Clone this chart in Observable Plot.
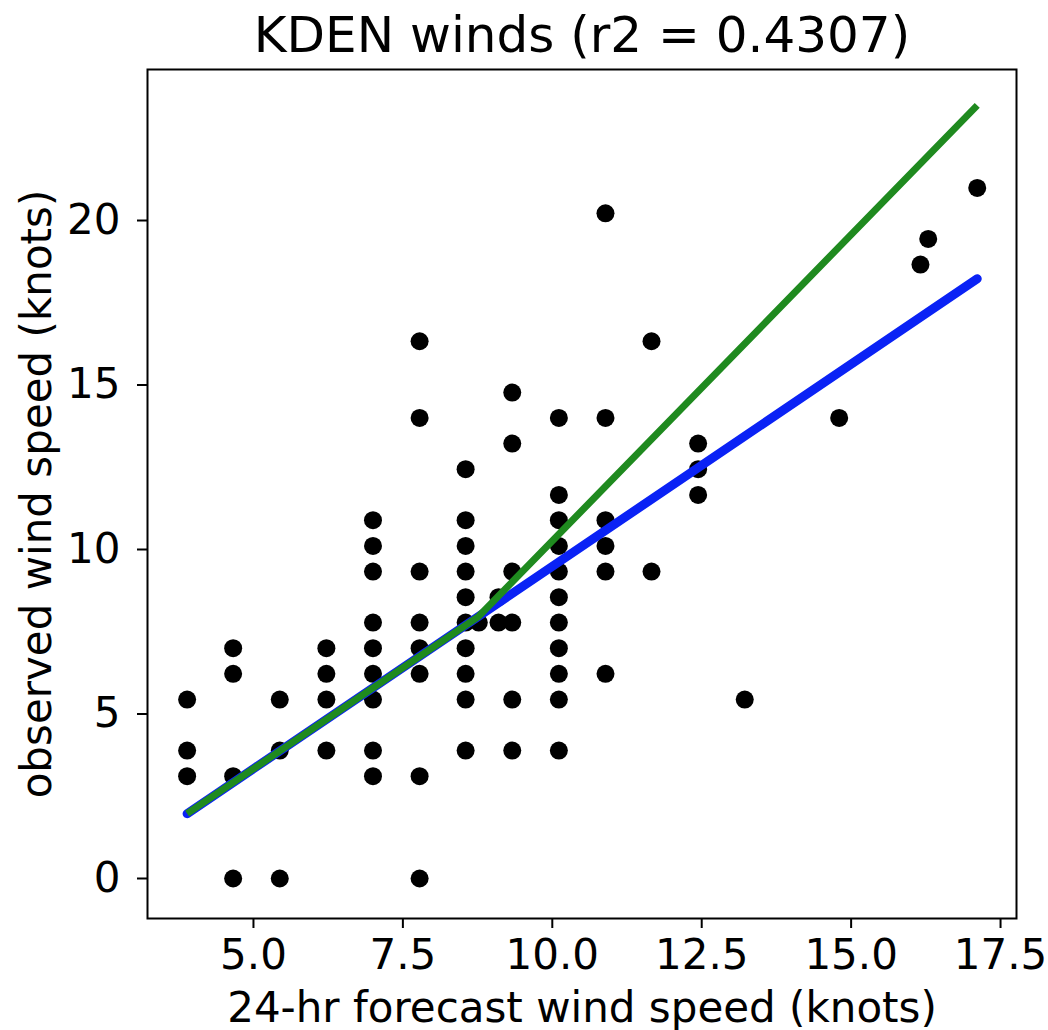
<!DOCTYPE html>
<html>
<head>
<meta charset="utf-8">
<script src="https://cdn.jsdelivr.net/npm/d3@7"></script>
<script src="https://cdn.jsdelivr.net/npm/@observablehq/plot@0.6"></script>
<style>
  body { margin: 0; background: #fff; }
  #chart svg { font-family: "DejaVu Sans", sans-serif; }
</style>
</head>
<body>
<div id="chart"></div>
<script>
// ---- Data ----
const title = "KDEN winds (r2 = 0.4307)";
const xLabel = "24-hr forecast wind speed (knots)";
const yLabel = "observed wind speed (knots)";
const xTicks = [5.0, 7.5, 10.0, 12.5, 15.0, 17.5];
const yTicks = [0, 5, 10, 15, 20];

// scatter: 24-hr forecast vs observed wind speed (knots)
const forecast = [
  3.89, 3.89, 3.89,
  4.66, 4.66, 4.66, 4.66,
  5.44, 5.44, 5.44,
  6.22, 6.22, 6.22, 6.22,
  7.00, 7.00, 7.00, 7.00, 7.00, 7.00, 7.00, 7.00, 7.00,
  7.78, 7.78, 7.78, 7.78, 7.78, 7.78, 7.78, 7.78,
  8.55, 8.55, 8.55, 8.55, 8.55, 8.55, 8.55, 8.55, 8.55, 8.55,
  8.77,
  9.10, 9.10,
  9.33, 9.33, 9.33, 9.33, 9.33, 9.33,
  10.11, 10.11, 10.11, 10.11, 10.11, 10.11, 10.11, 10.11, 10.11, 10.11, 10.11,
  10.89, 10.89, 10.89, 10.89, 10.89, 10.89,
  11.66, 11.66,
  12.44, 12.44, 12.44,
  13.22,
  14.80,
  16.16,
  16.29,
  17.11
];
const observed = [
  5.44, 3.89, 3.11,
  7.00, 6.22, 3.11, 0,
  5.44, 3.89, 0,
  7.00, 6.22, 5.44, 3.89,
  10.89, 10.11, 9.33, 7.78, 7.00, 6.22, 5.44, 3.89, 3.11,
  16.33, 14.00, 9.33, 7.78, 7.00, 6.22, 3.11, 0,
  12.44, 10.89, 10.11, 9.33, 8.55, 7.78, 7.00, 6.22, 5.44, 3.89,
  7.78,
  8.55, 7.78,
  14.77, 13.22, 9.33, 7.78, 5.44, 3.89,
  14.00, 11.66, 10.89, 10.11, 9.33, 8.55, 7.78, 7.00, 6.22, 5.44, 3.89,
  20.22, 14.00, 10.89, 10.11, 9.33, 6.22,
  16.33, 9.33,
  13.22, 12.44, 11.66,
  5.44,
  14.00,
  18.66,
  19.44,
  20.99
];

// linear fit (blue)
const linearX = [3.89, 17.11];
const linearY = [1.97, 18.23];
// second model (green)
const modelX = [3.89, 8.77, 17.11];
const modelY = [1.97, 7.97, 23.50];

// ---- Build tables ----
const points = forecast.map((x, i) => ({x, y: observed[i]}));
const linear = linearX.map((x, i) => ({x, y: linearY[i]}));
const model = modelX.map((x, i) => ({x, y: modelY[i]}));

const chart = Plot.plot({
  width: 1048,
  height: 1030,
  marginLeft: 147,
  marginRight: 32,
  marginTop: 69,
  marginBottom: 112,
  style: {fontFamily: "DejaVu Sans", fontSize: "42px", background: "white", color: "black", overflow: "visible"},
  x: {domain: [3.227, 17.767]},
  y: {domain: [-1.216, 24.59]},
  marks: [
    Plot.dot(points, {x: "x", y: "y", r: 9, fill: "black", stroke: "none"}),
    Plot.line(linear, {x: "x", y: "y", stroke: "#0a22f5", strokeWidth: 9, strokeLinecap: "round"}),
    Plot.line(model, {x: "x", y: "y", stroke: "#1f8a1f", strokeWidth: 7, strokeLinecap: "butt", strokeLinejoin: "round"}),
    Plot.frame({stroke: "black", strokeWidth: 2}),
    Plot.axisX(xTicks, {tickSize: 10, tickPadding: 11, tickFormat: d3.format(".1f"), stroke: "black", strokeWidth: 2, label: null}),
    Plot.axisY(yTicks, {tickSize: 10, tickPadding: 17, tickFormat: d3.format("d"), stroke: "black", strokeWidth: 2, label: null}),
    Plot.text([xLabel], {frameAnchor: "bottom", textAnchor: "middle", lineAnchor: "middle", dy: 89.6, fill: "black"}),
    Plot.text([yLabel], {frameAnchor: "left", textAnchor: "middle", lineAnchor: "middle", rotate: -90, dx: -109.5, fill: "black"}),
    Plot.text([title], {frameAnchor: "top", textAnchor: "middle", lineAnchor: "middle", dy: -33.5, fontSize: 50, fill: "black"})
  ]
});
document.getElementById("chart").appendChild(chart);
</script>
</body>
</html>
